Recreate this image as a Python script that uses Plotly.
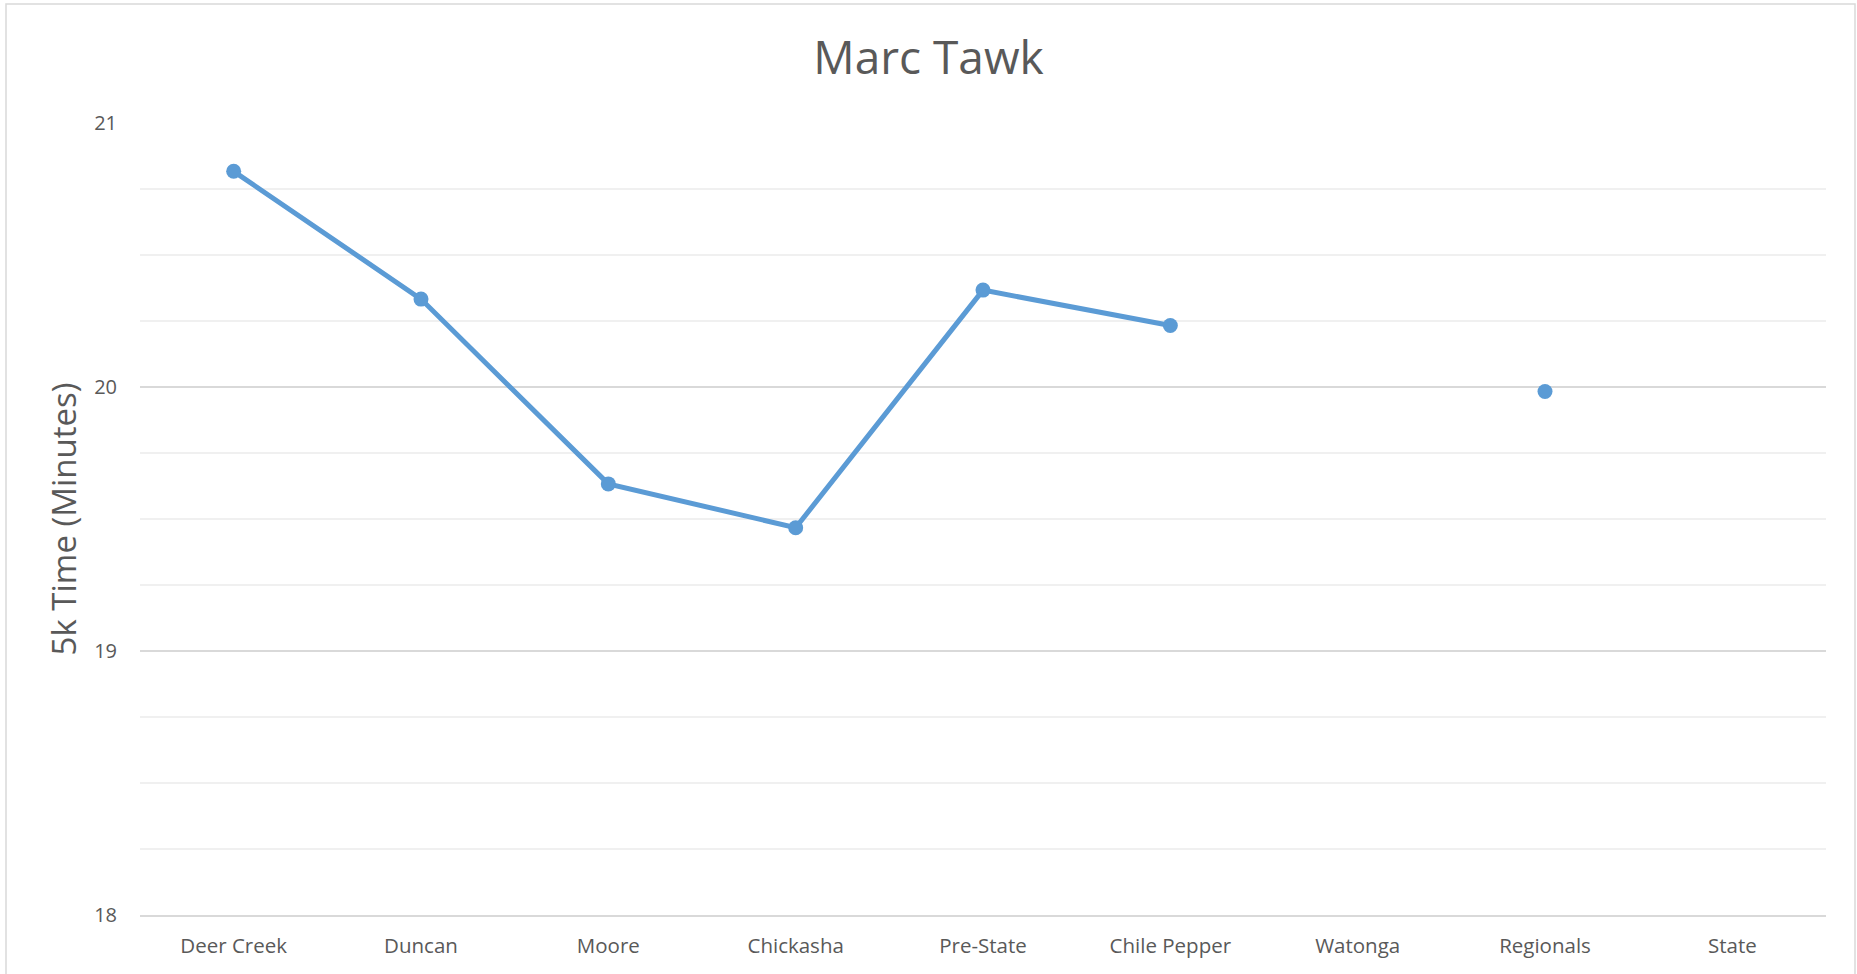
import plotly.graph_objects as go

races = ["Deer Creek", "Duncan", "Moore", "Chickasha", "Pre-State",
         "Chile Pepper", "Watonga", "Regionals", "State"]
times = [20.817, 20.333, 19.633, 19.467, 20.367, 20.233, None, 19.983, None]
y_ticks = [18, 19, 20, 21]

W, H = 1857, 974
L, R, T, B = 140, 31, 123, 59
pw, ph = W - L - R, H - T - B

FONT = "Open Sans"
GREY = "#595959"
BLUE = "#5B9BD5"

fig = go.Figure()
fig.add_trace(go.Scatter(
    x=races, y=times, mode="lines+markers",
    line=dict(color=BLUE, width=5),
    marker=dict(color=BLUE, size=15),
    connectgaps=False, showlegend=False, hoverinfo="x+y",
))

# outer chart border (Excel-like frame)
bx0, bx1, by0, by1 = 6, 1855, 4, 990
fig.add_shape(type="rect", xref="paper", yref="paper",
              x0=(bx0 - L) / pw, x1=(bx1 - L) / pw,
              y0=(H - B - by1) / ph, y1=(H - B - by0) / ph,
              line=dict(color="#d9d9d9", width=1.5), fillcolor="rgba(0,0,0,0)",
              layer="below")

fig.update_layout(
    width=W, height=H,
    margin=dict(l=L, r=R, t=T, b=B, autoexpand=False),
    paper_bgcolor="white", plot_bgcolor="white",
    font=dict(family=FONT, color=GREY),
    title=dict(text="Marc Tawk", x=0.5, xref="container", xanchor="center",
               y=1 - 58 / H, yref="container", yanchor="middle",
               font=dict(family=FONT, size=46, color=GREY)),
)
fig.update_xaxes(
    type="category", categoryorder="array", categoryarray=races,
    range=[-0.5, len(races) - 0.5],
    showgrid=False, zeroline=False,
    showline=True, linecolor="#d9d9d9", linewidth=1.5,
    ticks="",
    tickfont=dict(family=FONT, size=20.5, color=GREY),
    ticklabelstandoff=12,
)
fig.update_yaxes(
    range=[18, 21], tickvals=y_ticks, ticktext=[str(v) for v in y_ticks],
    showgrid=True, gridcolor="#d9d9d9", gridwidth=1.5,
    minor=dict(dtick=0.25, tick0=18, showgrid=True, gridcolor="#f0f0f0", gridwidth=1.5, ticks=""),
    zeroline=False, showline=False, ticks="",
    tickfont=dict(family=FONT, size=20, color=GREY),
    ticklabelstandoff=22,
    title=dict(text="5k Time (Minutes)", standoff=7,
               font=dict(family=FONT, size=33, color=GREY)),
    automargin=True,
)

fig.write_html("out.html", post_script="document.body.style.margin='0';",
               config={"displayModeBar": False})
